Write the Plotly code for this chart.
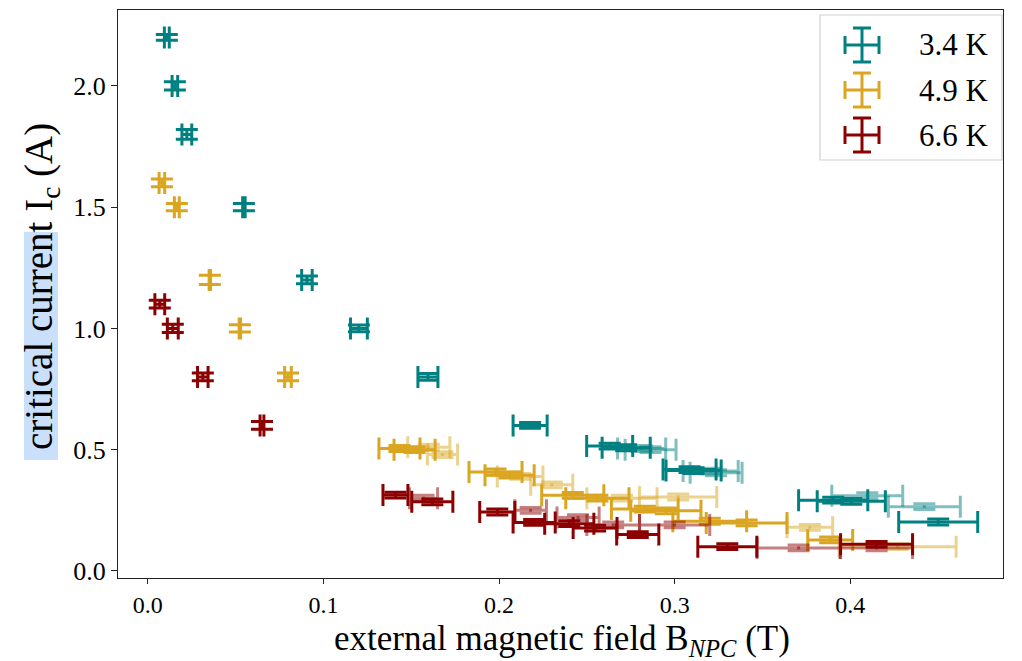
import plotly.graph_objects as go

# ---------------- data ----------------
temps = ["3.4 K", "4.9 K", "6.6 K"]
colors = ["#008080", "#DAA520", "#8B0000"]
rgba_rep = ["rgba(0,128,128,0.5)", "rgba(218,165,32,0.5)", "rgba(139,0,0,0.5)"]

# 3.4 K main measurements
t34_B = [0.0108, 0.0154, 0.0222, 0.0547, 0.0906, 0.1202, 0.1595, 0.2177,
         0.2630, 0.2724, 0.3085, 0.3108, 0.3903, 0.4006, 0.4501]
t34_I = [2.20, 2.00, 1.80, 1.50, 1.20, 1.00, 0.80, 0.60,
         0.515, 0.508, 0.418, 0.414, 0.292, 0.287, 0.202]
t34_dB = [0.0014, 0.0016, 0.0028, 0.0007, 0.0030, 0.0048, 0.0057, 0.0097,
          0.0131, 0.0137, 0.0151, 0.0157, 0.0197, 0.0194, 0.0225]
t34_dI = [0.012, 0.017, 0.020, 0.015, 0.016, 0.014, 0.014, 0.012,
          0.012, 0.012, 0.012, 0.012, 0.012, 0.012, 0.012]
# 3.4 K repeated measurements
t34r_B = [0.2812, 0.2863, 0.3205, 0.3236, 0.4097, 0.4422]
t34r_I = [0.505, 0.500, 0.412, 0.405, 0.310, 0.265]
t34r_dB = [0.0137, 0.0145, 0.0157, 0.0148, 0.0202, 0.0205]
t34r_dI = [0.012, 0.012, 0.012, 0.012, 0.012, 0.012]

# 4.9 K main measurements
t49_B = [0.0080, 0.0165, 0.0353, 0.0524, 0.0798, 0.1433, 0.1519, 0.1980,
         0.2060, 0.2420, 0.2560, 0.2830, 0.2950, 0.3200, 0.3410, 0.3886]
t49_I = [1.60, 1.50, 1.20, 1.00, 0.80, 0.505, 0.500, 0.408,
         0.395, 0.312, 0.300, 0.255, 0.248, 0.205, 0.198, 0.128]
t49_dB = [0.0016, 0.0014, 0.0004, 0.0004, 0.0019, 0.0117, 0.0117, 0.0151,
          0.0140, 0.0177, 0.0180, 0.0190, 0.0200, 0.0210, 0.0230, 0.0128]
t49_dI = [0.016, 0.015, 0.019, 0.015, 0.016, 0.012, 0.012, 0.012,
          0.012, 0.012, 0.012, 0.012, 0.012, 0.012, 0.012, 0.012]
# 4.9 K repeated measurements
t49r_B = [0.1600, 0.1678, 0.2120, 0.2300, 0.2700, 0.3020, 0.3770, 0.4270]
t49r_I = [0.510, 0.480, 0.390, 0.355, 0.300, 0.305, 0.180, 0.100]
t49r_dB = [0.0120, 0.0086, 0.0130, 0.0120, 0.0200, 0.0220, 0.0130, 0.0333]
t49r_dI = [0.012, 0.012, 0.012, 0.012, 0.012, 0.012, 0.012, 0.012]

# 6.6 K main measurements
t66_B = [0.0068, 0.0142, 0.0313, 0.0650, 0.1410, 0.1620, 0.1990, 0.2200,
         0.2400, 0.2547, 0.2790, 0.3300, 0.4150]
t66_I = [1.10, 1.00, 0.80, 0.60, 0.313, 0.285, 0.243, 0.200,
         0.195, 0.177, 0.150, 0.100, 0.110]
t66_dB = [0.0028, 0.0031, 0.0030, 0.0011, 0.0071, 0.0117, 0.0100, 0.0120,
          0.0140, 0.0125, 0.0120, 0.0168, 0.0205]
t66_dI = [0.016, 0.017, 0.016, 0.016, 0.012, 0.012, 0.012, 0.012,
          0.012, 0.012, 0.012, 0.012, 0.012]
# 6.6 K repeated measurements
t66r_B = [0.1570, 0.2180, 0.2450, 0.2650, 0.3000, 0.3706, 0.4150]
t66r_I = [0.300, 0.250, 0.220, 0.190, 0.190, 0.095, 0.095]
t66r_dB = [0.0080, 0.0090, 0.0120, 0.0150, 0.0200, 0.0236, 0.0205]
t66r_dI = [0.012, 0.012, 0.012, 0.012, 0.012, 0.012, 0.012]

x_ticks = [0.0, 0.1, 0.2, 0.3, 0.4]
y_ticks = [0.0, 0.5, 1.0, 1.5, 2.0]
x_title = "external magnetic field B<sub><i>NPC</i></sub> (T)"
y_title = "critical current I<sub>c</sub> (A)"

# ---------------- figure ----------------
FONT = "Liberation Serif"
fig = go.Figure()

series = [
    (t34_B, t34_I, t34_dB, t34_dI, t34r_B, t34r_I, t34r_dB, t34r_dI),
    (t49_B, t49_I, t49_dB, t49_dI, t49r_B, t49r_I, t49r_dB, t49r_dI),
    (t66_B, t66_I, t66_dB, t66_dI, t66r_B, t66r_I, t66r_dB, t66r_dI),
]

CAP = 11
TH = 3
for k, (B, I, dB, dI, rB, rI, rdB, rdI) in enumerate(series):
    fig.add_trace(go.Scatter(
        x=B, y=I, mode="markers", name=temps[k], showlegend=False,
        marker=dict(size=1, color="rgba(0,0,0,0)"),
        error_x=dict(type="data", array=dB, visible=True, color=colors[k], thickness=TH, width=CAP),
        error_y=dict(type="data", array=dI, visible=True, color=colors[k], thickness=TH, width=CAP),
    ))
    fig.add_trace(go.Scatter(
        x=rB, y=rI, mode="markers", name=temps[k] + " (repeat)", showlegend=False,
        marker=dict(size=1, color="rgba(0,0,0,0)"),
        error_x=dict(type="data", array=rdB, visible=True, color=rgba_rep[k], thickness=TH, width=CAP),
        error_y=dict(type="data", array=rdI, visible=True, color=rgba_rep[k], thickness=TH, width=CAP),
    ))

W, H = 1022, 661
L, R, T, Bm = 118, 19, 10, 83
pw, ph = W - L - R, H - T - Bm


def px_x(p):
    return (p - L) / pw


def px_y(p):
    return (H - Bm - p) / ph


shapes = []
# highlight behind "critical current"
shapes.append(dict(type="rect", xref="paper", yref="paper",
                   x0=px_x(24), x1=px_x(58), y0=px_y(460), y1=px_y(232),
                   fillcolor="#cadffa", line=dict(width=0), layer="below"))
# legend box
shapes.append(dict(type="rect", xref="paper", yref="paper",
                   x0=px_x(820), x1=px_x(1002), y0=px_y(160), y1=px_y(15),
                   fillcolor="white", line=dict(color="#d0d0d0", width=1.2), layer="above"))
annotations = []
ly = [45, 90, 135]
icx = px_x(862)
for k in range(3):
    cy = px_y(ly[k])
    c = colors[k]
    segs = [(-17, 0, 17, 0), (0, -17, 0, 17), (-17, -9, -17, 9), (17, -9, 17, 9),
            (-9, -17, 9, -17), (-9, 17, 9, 17)]
    for (a, b, cc, d) in segs:
        shapes.append(dict(type="line", xref="paper", yref="paper",
                           xsizemode="pixel", ysizemode="pixel",
                           xanchor=icx, yanchor=cy, x0=a, x1=cc, y0=b, y1=d,
                           line=dict(color=c, width=TH), layer="above"))
    annotations.append(dict(xref="paper", yref="paper", x=px_x(917), y=cy,
                            xanchor="left", yanchor="middle", showarrow=False,
                            text=temps[k], font=dict(family=FONT, size=31, color="black")))

# axis titles
annotations.append(dict(xref="paper", yref="paper", x=px_x(562), y=px_y(640),
                        xanchor="center", yanchor="middle", showarrow=False,
                        text=x_title, font=dict(family=FONT, size=35, color="black")))
annotations.append(dict(xref="paper", yref="paper", x=px_x(41), y=px_y(287),
                        xanchor="center", yanchor="middle", showarrow=False, textangle=-90,
                        text=y_title, font=dict(family=FONT, size=39, color="black")))

fig.update_layout(
    width=W, height=H,
    margin=dict(l=L, r=R, t=T, b=Bm),
    paper_bgcolor="white", plot_bgcolor="white",
    font=dict(family=FONT, color="black"),
    showlegend=False,
    shapes=shapes, annotations=annotations,
    xaxis=dict(range=[-0.017, 0.487], tickvals=x_ticks, tickformat=".1f",
               showline=True, mirror=True, linecolor="#222", linewidth=1.2,
               ticks="outside", ticklen=5, tickcolor="#222", showgrid=False, zeroline=False,
               tickfont=dict(family=FONT, size=24)),
    yaxis=dict(range=[-0.029, 2.313], tickvals=y_ticks, tickformat=".1f",
               showline=True, mirror=True, linecolor="#222", linewidth=1.2,
               ticks="outside", ticklen=6, tickcolor="#222", showgrid=False, zeroline=False,
               tickfont=dict(family=FONT, size=26)),
)

fig.write_html("out.html", config={"displayModeBar": False},
               post_script="document.body.style.margin='0px';")
